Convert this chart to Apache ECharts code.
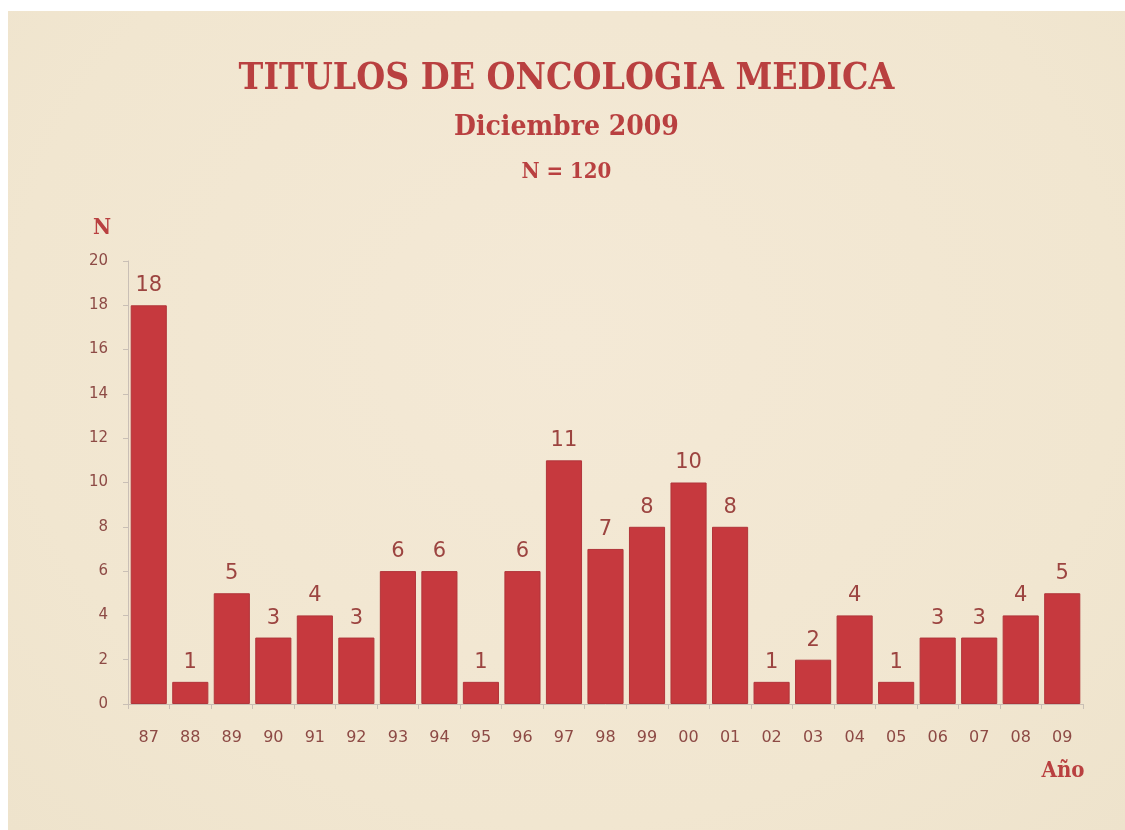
<!DOCTYPE html>
<html>
<head>
<meta charset="utf-8">
<script src="https://cdn.jsdelivr.net/npm/echarts@6/dist/echarts.min.js"></script>
<style>
  html, body { margin: 0; padding: 0; background: #ffffff; }
  #chart { position: absolute; left: 8px; top: 11px; width: 1117px; height: 819px;
    background: radial-gradient(ellipse at 50% 40%, #f4e9d6 0%, #f1e6d0 70%, #eee3cc 100%); }
</style>
</head>
<body>
<div id="chart"></div>
<script>
// datos
var years = ['87','88','89','90','91','92','93','94','95','96','97','98','99','00','01','02','03','04','05','06','07','08','09'];
var titulos = [18, 1, 5, 3, 4, 3, 6, 6, 1, 6, 11, 7, 8, 10, 8, 1, 2, 4, 1, 3, 3, 4, 5];

var rojo = '#b94040';
var myChart = echarts.init(document.getElementById('chart'));
myChart.setOption({
  backgroundColor: 'transparent',
  title: [
    {
      text: 'TITULOS DE ONCOLOGIA MEDICA',
      left: 'center', top: 45,
      textStyle: { fontFamily: 'DejaVu Serif Condensed', fontWeight: 'bold', fontSize: 37, color: rojo }
    },
    {
      text: 'Diciembre 2009',
      left: 'center', top: 98,
      textStyle: { fontFamily: 'DejaVu Serif Condensed', fontWeight: 'bold', fontSize: 28, color: rojo }
    },
    {
      text: 'N = 120',
      left: 'center', top: 145,
      textStyle: { fontFamily: 'DejaVu Serif Condensed', fontWeight: 'bold', fontSize: 22, color: rojo }
    }
  ],
  grid: {
    left: 120, right: 42, top: 250, bottom: 126,
    containLabel: false
  },
  xAxis: {
    type: 'category',
    data: years,
    name: 'Año',
    nameLocation: 'end',
    nameGap: 0,
    nameTextStyle: {
      fontFamily: 'DejaVu Serif Condensed', fontWeight: 'bold', fontSize: 22, color: rojo,
      align: 'center', verticalAlign: 'top', padding: [56, 40, 0, 0]
    },
    axisLine: { lineStyle: { color: '#c9bfb5', width: 1 } },
    axisTick: { show: true, alignWithLabel: false, length: 5, lineStyle: { color: '#c9bfb5' } },
    axisLabel: { fontFamily: 'DejaVu Sans', fontSize: 16, color: '#8d4a45', margin: 26 }
  },
  yAxis: {
    type: 'value',
    min: 0, max: 20, interval: 2,
    name: 'N',
    nameLocation: 'end',
    nameGap: 22,
    nameTextStyle: {
      fontFamily: 'DejaVu Serif Condensed', fontWeight: 'bold', fontSize: 22, color: rojo,
      align: 'right', padding: [0, 17, 0, 0]
    },
    splitLine: { show: false },
    axisLine: { show: true, lineStyle: { color: '#c9bfb5', width: 1 } },
    axisTick: { show: true, length: 5, lineStyle: { color: '#c9bfb5' } },
    axisLabel: { fontFamily: 'DejaVu Sans', fontSize: 15, color: '#8d4a45', margin: 20 }
  },
  series: [
    {
      name: 'Titulos',
      type: 'bar',
      data: titulos,
      barCategoryGap: '13%',
      itemStyle: { color: '#c6393e', borderColor: '#b1353a', borderWidth: 1 },
      label: {
        show: true, position: 'top', distance: 9,
        fontFamily: 'DejaVu Sans', fontSize: 21, color: '#9c4440'
      }
    }
  ]
});
</script>
</body>
</html>
